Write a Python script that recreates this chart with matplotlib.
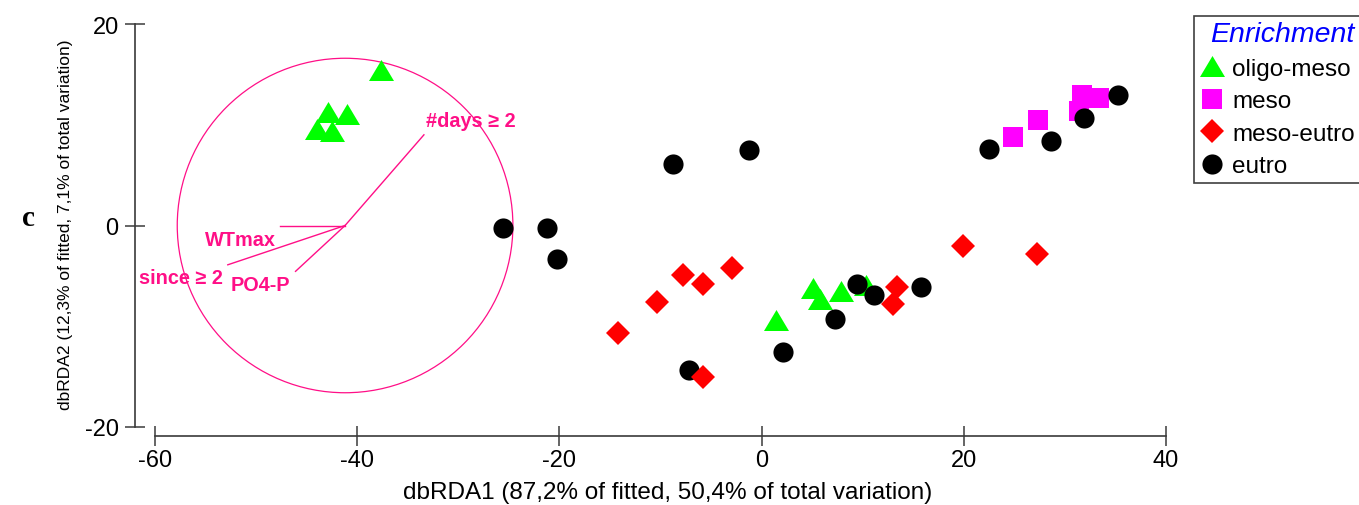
import matplotlib
matplotlib.use("Agg")
import matplotlib.pyplot as plt
from matplotlib.patches import Circle

plt.rcParams['font.family'] = ['Liberation Sans', 'DejaVu Sans']
plt.rcParams['axes.unicode_minus'] = False

# Sample scores on the first two dbRDA axes, by enrichment class
oligo_meso_x = [-37.6, -42.9, -41.0, -44.0, -42.5, 1.4, 5.1, 5.8, 7.9, 10.3]
oligo_meso_y = [15.4, 11.3, 11.1, 9.6, 9.4, -9.4, -6.2, -7.3, -6.5, -5.9]

meso_x = [24.9, 27.3, 31.4, 31.7, 33.4]
meso_y = [8.8, 10.5, 11.4, 13.0, 12.7]

meso_eutro_x = [-14.2, -10.3, -7.8, -5.8, -2.9, -5.8, 13.4, 13.0, 19.9, 27.2]
meso_eutro_y = [-10.7, -7.6, -4.9, -5.8, -4.2, -15.0, -6.1, -7.8, -2.0, -2.8]

eutro_x = [-25.6, -21.2, -20.2, -8.8, -1.2, -7.2, 2.1, 7.3, 9.4, 11.1, 15.8, 22.5, 28.6, 31.9, 35.3]
eutro_y = [-0.2, -0.2, -3.3, 6.1, 7.5, -14.3, -12.6, -9.3, -5.8, -6.9, -6.1, 7.6, 8.4, 10.7, 13.0]

# Predictor vectors (drawn from the centre of the correlation circle)
vector_names = ['#days \u2265 2', 'WTmax', 'since \u2265 2', 'PO4-P']
vector_dx = [7.8, -6.4, -11.6, -4.9]
vector_dy = [9.0, 0.0, -3.9, -4.55]
circle_center = (-41.2, 0.0)
circle_radius = 16.6

x_ticks = [-60, -40, -20, 0, 20, 40]
y_ticks = [-20, 0, 20]

x_title = 'dbRDA1 (87,2% of fitted, 50,4% of total variation)'
y_title = 'dbRDA2 (12,3% of fitted, 7,1% of total variation)'
legend_title = 'Enrichment'

W, H = 1359, 506
fig = plt.figure(figsize=(W / 100, H / 100), dpi=100)
ax = fig.add_axes([155 / W, 1 - 428 / H, (1166 - 155) / W, (428 - 25) / H])
ax.set_xlim(x_ticks[0], x_ticks[-1])
ax.set_ylim(y_ticks[0], y_ticks[-1])

tri = [(0, 0.84), (-1, -0.84), (1, -0.84)]
h_olig, = ax.plot(oligo_meso_x, oligo_meso_y, ls='none', marker=tri, ms=18,
                  color='#00FF00', mew=0, zorder=3, label='oligo-meso')
h_meso, = ax.plot(meso_x, meso_y, ls='none', marker='s', ms=15,
                  color='#FF00FF', mew=0, zorder=4, label='meso')
h_eutro, = ax.plot(eutro_x, eutro_y, ls='none', marker='o', ms=14.5,
                   color='black', mew=0, zorder=5, label='eutro')
h_me, = ax.plot(meso_eutro_x, meso_eutro_y, ls='none', marker='D', ms=12.7,
                color='#FF0000', mew=0, zorder=6, label='meso-eutro')

# Correlation circle and vectors
pink = '#FF0F87'
ax.add_patch(Circle(circle_center, circle_radius, fill=False, ec=pink, lw=0.9, zorder=2))
label_style = {
    '#days \u2265 2': dict(ha='left', va='baseline', off=(1.5, 6)),
    'WTmax': dict(ha='right', va='top', off=(-3, -3)),
    'since \u2265 2': dict(ha='right', va='top', off=(-3.6, -2.2)),
    'PO4-P': dict(ha='right', va='top', off=(-4.1, -2.4)),
}
cx, cy = circle_center
for name, dx, dy in zip(vector_names, vector_dx, vector_dy):
    ax.plot([cx, cx + dx], [cy, cy + dy], color=pink, lw=1.0, zorder=2)
    st = label_style[name]
    ax.annotate(name, (cx + dx, cy + dy), xytext=st['off'], textcoords='offset points',
                ha=st['ha'], va=st['va'], color=pink, fontsize=14.3, fontweight='bold',
                zorder=2)

# Detached axes
axis_color = '#3a3a3a'
for s in ('top', 'right'):
    ax.spines[s].set_visible(False)
ax.spines['left'].set_position(('outward', 14.4))
ax.spines['bottom'].set_position(('outward', 6.8))
for s in ('left', 'bottom'):
    ax.spines[s].set_color(axis_color)
    ax.spines[s].set_linewidth(1.2)
ax.set_xticks(x_ticks)
ax.set_yticks(y_ticks)
ax.tick_params(direction='inout', length=14.4, width=1.1, color=axis_color,
               labelsize=17, labelcolor='black')
ax.tick_params(axis='x', pad=2)
ax.tick_params(axis='y', pad=4.5)

ax.set_xlabel(x_title, fontsize=17.5)
ax.xaxis.set_label_coords((667.5 - 155) / 1011, (428 - 493) / 403)
ax.xaxis.label.set_va('center')
ax.set_ylabel(y_title, fontsize=12.5)
ax.yaxis.set_label_coords((66 - 155) / 1011, (428 - 225) / 403)
ax.yaxis.label.set_va('center')

fig.text(28 / W, 1 - 219 / H, 'c', family='Liberation Serif', fontweight='bold',
         fontsize=21, ha='center', va='center')

# Legend box runs past the right edge of the figure
leg = ax.legend(handles=[h_olig, h_meso, h_me, h_eutro], title=legend_title,
                loc='upper left', mode='expand',
                bbox_to_anchor=(1194 / W, 0, 176 / W, 1 - 17 / H),
                bbox_transform=fig.transFigure, borderaxespad=0, fontsize=17.5,
                title_fontproperties={'size': 20.5, 'style': 'italic'},
                frameon=True, fancybox=False, framealpha=1, edgecolor='#404040',
                borderpad=0.22, handlelength=1.0, handletextpad=0.35,
                labelspacing=0.43, numpoints=1)
leg.get_title().set_color('#0000FF')
leg.get_frame().set_linewidth(1.2)

fig.savefig('out.png', dpi=100)
